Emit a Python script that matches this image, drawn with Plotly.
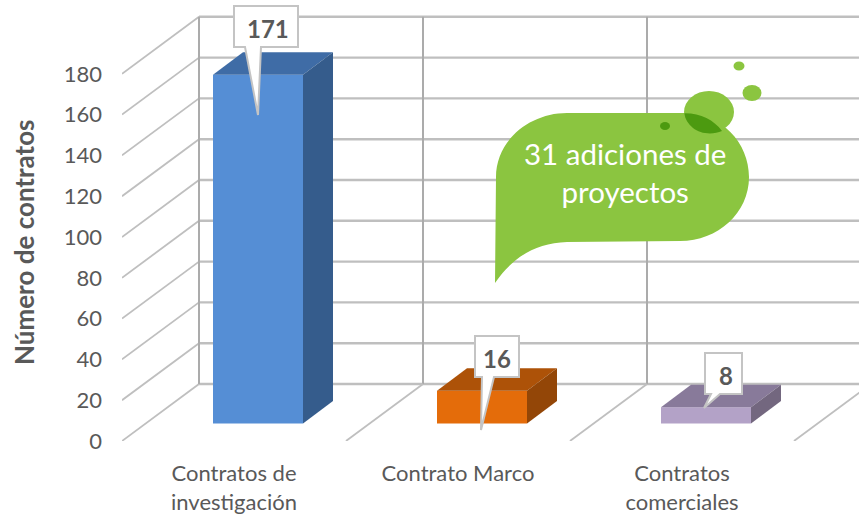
import plotly.graph_objects as go

categories = ["Contratos de<br>investigación", "Contrato Marco", "Contratos<br>comerciales"]
values = [171, 16, 8]
front_colors = ["#558ED5", "#E46C0A", "#B3A2C7"]
top_colors = ["#3F6CA6", "#AD5208", "#887A9A"]
side_colors = ["#355C8C", "#934607", "#73677F"]
y_ticks = [0, 20, 40, 60, 80, 100, 120, 140, 160, 180]

W, H = 859, 515
X0, STEP = 122, 224          # px of first category edge, px per category
Y0, SCALE = 441, 2.04        # px of value 0, px per unit
BACK_DX, BACK_DY = 77, 57    # wall depth, px
BAR_W = 90 / STEP
BAR_SHIFT = 24 / STEP
BAR_BASE = 17.5 / SCALE
DEPTH_X, DEPTH_Y = 30 / STEP, 22.5 / SCALE
BDX, BDY = BACK_DX / STEP, BACK_DY / SCALE
x_max = (W - X0) / STEP
y_max = Y0 / SCALE

fig = go.Figure()
shapes = []


# gridlines, behind every trace
def grid(x0, y0, x1, y1, color, width):
    shapes.append(dict(type="line", xref="x", yref="y", x0=x0, y0=y0, x1=x1, y1=y1,
                       line=dict(color=color, width=width), layer="below"))


for t in y_ticks:
    grid(BDX, t + BDY, x_max, t + BDY, "#BFBFBF", 2.4)
    grid(0, t, BDX, t + BDY, "#BFBFBF", 1.8)
for i in range(len(categories) + 1):
    if i < len(categories):
        grid(i + BDX, BDY, i + BDX, y_ticks[-1] + BDY, "#ABABAB", 2)
    if i > 0:
        grid(i, 0, i + BDX, BDY, "#BFBFBF", 1.8)

centers = [i + 0.5 + BAR_SHIFT for i in range(len(values))]

# 3D faces of the bars
for c, v, tc, sc in zip(centers, values, top_colors, side_colors):
    l, r = c - BAR_W / 2, c + BAR_W / 2
    top = BAR_BASE + v
    fig.add_trace(go.Scatter(
        x=[l, r, r + DEPTH_X, l + DEPTH_X, l], y=[top, top, top + DEPTH_Y, top + DEPTH_Y, top],
        mode="lines", fill="toself", fillcolor=tc, line=dict(width=0), hoverinfo="skip",
        showlegend=False, cliponaxis=False))
    fig.add_trace(go.Scatter(
        x=[r, r + DEPTH_X, r + DEPTH_X, r, r],
        y=[BAR_BASE, BAR_BASE + DEPTH_Y, top + DEPTH_Y, top, BAR_BASE],
        mode="lines", fill="toself", fillcolor=sc, line=dict(width=0), hoverinfo="skip",
        showlegend=False, cliponaxis=False))

fig.add_trace(go.Bar(x=centers, y=values, base=BAR_BASE, width=BAR_W,
                     marker=dict(color=front_colors, line=dict(width=0)),
                     showlegend=False, cliponaxis=False))


def px(x):
    return x / W


def py(y):
    return 1 - y / H


def path(cmds):
    out = []
    for c in cmds:
        out.append(c[0] + " " + " ".join(
            f"{px(c[i]):.5f},{py(c[i + 1]):.5f}" for i in range(1, len(c), 2)))
    return " ".join(out)


def add_path(cmds, fill, line=None, lw=0):
    shapes.append(dict(type="path", xref="paper", yref="paper", path=path(cmds) + " Z",
                       fillcolor=fill, line=dict(color=line or fill, width=lw), layer="above"))


def ell(cx, cy, rx, ry, fill):
    shapes.append(dict(type="circle", xref="paper", yref="paper",
                       x0=px(cx - rx), x1=px(cx + rx), y0=py(cy + ry), y1=py(cy - ry),
                       fillcolor=fill, line=dict(width=0), layer="above"))


# data label call-outs
add_path([("M", 234, 6), ("L", 298, 6), ("L", 298, 47), ("L", 261, 47), ("L", 258, 115),
          ("L", 245, 47), ("L", 234, 47)], "#FFFFFF", "#C4C4C4", 2)
add_path([("M", 475, 336), ("L", 519, 336), ("L", 519, 377), ("L", 494, 377), ("L", 481, 430),
          ("L", 482, 377), ("L", 475, 377)], "#FFFFFF", "#C4C4C4", 2)
add_path([("M", 705, 353), ("L", 742, 353), ("L", 742, 394), ("L", 720, 394), ("L", 704, 408),
          ("L", 711, 394), ("L", 705, 394)], "#FFFFFF", "#C4C4C4", 2)

# green thought bubble
GREEN = "#8BC540"
add_path([("M", 495, 283), ("L", 496, 177), ("C", 496, 140, 530, 113, 567, 113), ("L", 683, 113),
          ("C", 722, 113, 749, 143, 749, 177), ("C", 749, 213, 718, 241, 680, 241),
          ("L", 567, 242), ("C", 535, 243, 512, 258, 495, 283)], GREEN)
ell(709, 112, 25, 21, GREEN)
add_path([("M", 684.3, 113.3), ("C", 700, 113, 714, 120, 722, 131),
          ("C", 713, 135, 700, 134, 693, 128), ("C", 688, 124, 685, 119, 684.3, 113.3)], "#4C9A10")
ell(665, 126, 5, 4, "#4C9A10")
ell(752, 93, 9.5, 8, GREEN)
ell(739, 66, 5.5, 4.5, GREEN)

GRAY = "#595959"
annotations = []
for v, x, y in zip(values, [268, 497, 726], [28, 358, 375]):
    annotations.append(dict(xref="paper", yref="paper", x=px(x), y=py(y), text=str(v), showarrow=False,
                            xanchor="center", yanchor="middle",
                            font=dict(family="Lato", size=24, color=GRAY, weight="bold")))
annotations.append(dict(xref="paper", yref="paper", x=px(625), y=py(172),
                        text="31 adiciones de<br>proyectos", showarrow=False, align="center",
                        xanchor="center", yanchor="middle",
                        font=dict(family="Lato", size=29.5, color="#FFFFFF")))
annotations.append(dict(xref="paper", yref="paper", x=px(24), y=py(242), text="Número de contratos",
                        textangle=-90, showarrow=False, xanchor="center", yanchor="middle",
                        font=dict(family="Lato", size=26, color=GRAY, weight="bold")))

fig.update_layout(
    width=W, height=H, margin=dict(l=0, r=0, t=0, b=0), autosize=False,
    paper_bgcolor="white", plot_bgcolor="white", showlegend=False,
    font=dict(family="Lato", color=GRAY),
    shapes=shapes, annotations=annotations,
    xaxis=dict(domain=[X0 / W, 1], range=[0, x_max], showgrid=False, zeroline=False, showline=False,
               automargin=False,
               tickmode="array", tickvals=[i + 0.5 for i in range(len(categories))],
               ticktext=categories, ticks="", ticklabelstandoff=17,
               tickfont=dict(size=22, color=GRAY, family="Lato")),
    yaxis=dict(domain=[(H - Y0) / H, 1], range=[0, y_max], showgrid=False, zeroline=False, showline=False,
               automargin=False,
               tickmode="array", tickvals=y_ticks, ticks="", ticklabelstandoff=19,
               tickfont=dict(size=22, color=GRAY, family="Lato")),
)

fig.write_html("out.html", config={"displayModeBar": False},
               post_script="document.body.style.margin='0';document.body.style.overflow='hidden';")
